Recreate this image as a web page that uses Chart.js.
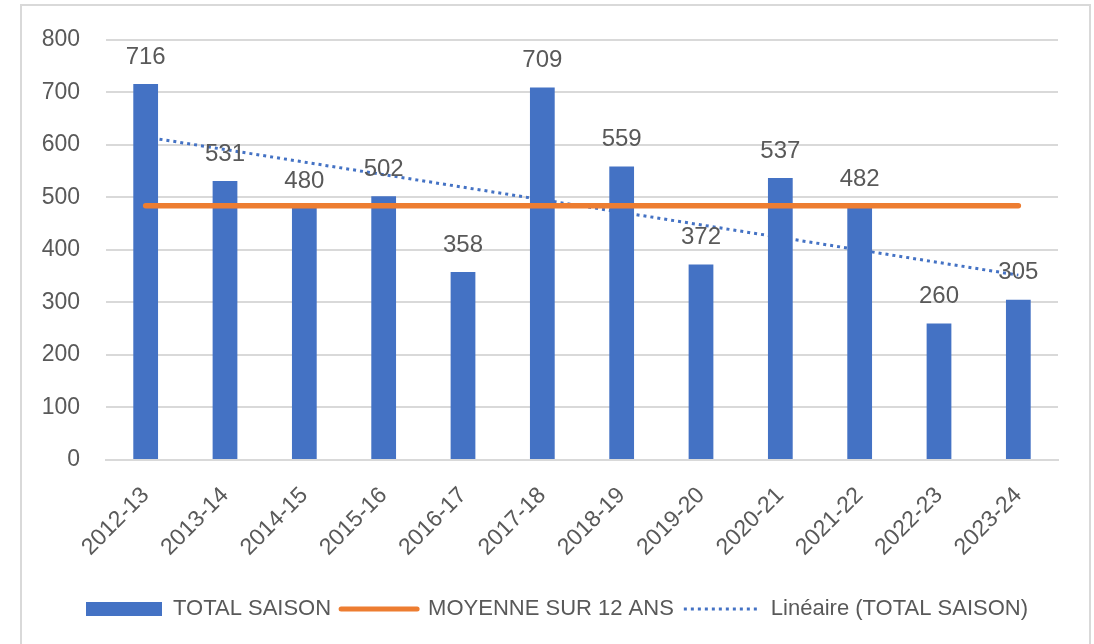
<!DOCTYPE html>
<html>
<head>
<meta charset="utf-8">
<script src="https://cdn.jsdelivr.net/npm/chart.js@4"></script>
<style>
  html, body { margin: 0; padding: 0; background: #fff; }
  #frame { position: absolute; left: 20px; top: 4px; width: 1071px; height: 660px; border: 2px solid #d9d9d9; box-sizing: border-box; }
  #wrap { position: absolute; left: 0; top: 0; width: 1094px; height: 644px; }
</style>
</head>
<body>
<div id="frame"></div>
<div id="wrap"><canvas id="chart"></canvas></div>
<script>
const seasons = ['2012-13', '2013-14', '2014-15', '2015-16', '2016-17', '2017-18',
                 '2018-19', '2019-20', '2020-21', '2021-22', '2022-23', '2023-24'];
const totalSaison = [716, 531, 480, 502, 358, 709, 559, 372, 537, 482, 260, 305];
const moyenne12Ans = [484, 484, 484, 484, 484, 484, 484, 484, 484, 484, 484, 484];
// trend line: only the two ends are drawn
const lineaire = [615, null, null, null, null, null, null, null, null, null, null, 352];
const yTicks = [0, 100, 200, 300, 400, 500, 600, 700, 800];

const textColor = '#595959';
const blue = '#4472C4';
const orange = '#ED7D31';
const font = 'Liberation Sans';

// value labels above the bars
const barLabels = {
    id: 'barLabels',
    afterDatasetsDraw(chart) {
        const ctx = chart.ctx;
        const meta = chart.getDatasetMeta(0);
        ctx.save();
        ctx.font = '24px "' + font + '"';
        ctx.fillStyle = textColor;
        ctx.textAlign = 'center';
        ctx.textBaseline = 'middle';
        meta.data.forEach((bar, i) => {
            ctx.fillText(String(totalSaison[i]), bar.x, bar.y - 27);
        });
        ctx.restore();
    }
};

new Chart(document.getElementById('chart'), {
    data: {
        labels: seasons,
        datasets: [
            {
                type: 'bar',
                label: 'TOTAL SAISON',
                data: totalSaison,
                backgroundColor: blue,
                barPercentage: 0.6,
                categoryPercentage: 0.52,
                order: 1
            },
            {
                type: 'line',
                label: 'MOYENNE SUR 12 ANS',
                data: moyenne12Ans,
                borderColor: orange,
                borderWidth: 5.5,
                borderCapStyle: 'round',
                pointRadius: 0,
                fill: false,
                order: 0
            },
            {
                type: 'line',
                label: 'Linéaire (TOTAL SAISON)',
                data: lineaire,
                borderColor: blue,
                borderWidth: 3,
                borderDash: [3, 4],
                spanGaps: true,
                pointRadius: 0,
                fill: false,
                order: 2
            }
        ]
    },
    options: {
        responsive: true,
        maintainAspectRatio: false,
        animation: false,
        layout: {
            padding: { left: 30, right: 10, top: 39, bottom: 14 }
        },
        scales: {
            x: {
                grid: { display: false, drawTicks: false },
                border: { color: '#d9d9d9', width: 2 },
                ticks: {
                    color: textColor,
                    font: { family: font, size: 23 },
                    minRotation: 45,
                    maxRotation: 45,
                    padding: 22
                },
                afterFit(scale) { scale.height = 128; }
            },
            y: {
                min: 0,
                max: 800,
                afterBuildTicks(scale) {
                    scale.ticks = yTicks.map(v => ({ value: v }));
                },
                grid: { color: '#d9d9d9', lineWidth: 2, drawTicks: false },
                border: { display: false },
                ticks: {
                    color: textColor,
                    font: { family: font, size: 23 },
                    padding: 26
                },
                afterFit(scale) { scale.width = 76; }
            },
            // empty axis on the right, only to keep the plot area off the frame
            yRight: {
                position: 'right',
                min: 0,
                max: 800,
                grid: { display: false },
                border: { display: false },
                ticks: { display: false },
                afterFit(scale) { scale.width = 26; }
            }
        },
        plugins: {
            legend: {
                position: 'bottom',
                labels: {
                    color: textColor,
                    font: { family: font, size: 22 },
                    usePointStyle: true,
                    pointStyleWidth: 76,
                    boxHeight: 14,
                    padding: 10,
                    generateLabels(chart) {
                        const ds = chart.data.datasets;
                        return [
                            { text: ds[0].label, pointStyle: 'rect', fillStyle: blue, strokeStyle: blue, lineWidth: 0, fontColor: textColor, datasetIndex: 0 },
                            { text: ds[1].label, pointStyle: 'line', fillStyle: orange, strokeStyle: orange, lineWidth: 5, lineCap: 'round', fontColor: textColor, datasetIndex: 1 },
                            { text: ds[2].label, pointStyle: 'line', fillStyle: blue, strokeStyle: blue, lineWidth: 3, lineDash: [3, 4], fontColor: textColor, datasetIndex: 2 }
                        ];
                    }
                }
            },
            tooltip: { enabled: false }
        }
    },
    plugins: [barLabels]
});
</script>
</body>
</html>
